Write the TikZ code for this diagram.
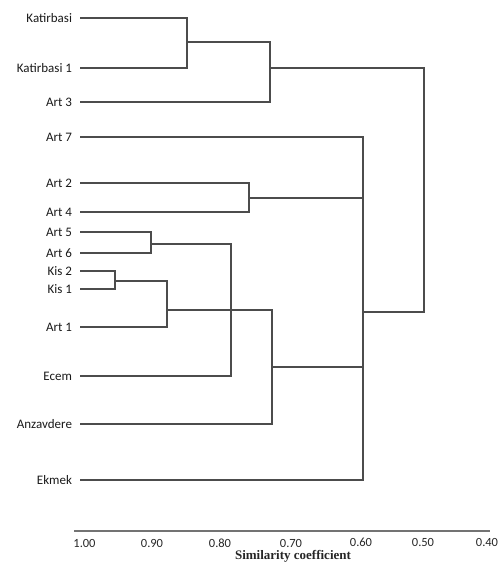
\documentclass[tikz,border=0pt]{standalone}
\usepackage{fontspec}
\setmainfont{Carlito}
\newfontfamily\serifb{Liberation Serif}
\begin{document}
\begin{tikzpicture}[x=1pt,y=-1pt,
  lab/.style={anchor=east,inner xsep=4pt,outer xsep=4pt,inner ysep=0pt,font=\fontsize{13}{13}\selectfont,text=black!90},
  tick/.style={font=\fontsize{12.5}{12.5}\selectfont,text=black!85,inner sep=0pt},
  br/.style={draw=black!70,line width=1.2pt}]
\useasboundingbox (0,0) rectangle (499,563);
% leaves
\node[lab] (kat)  at (80,18)  {Katirbasi};
\node[lab] (kat1) at (80,68)  {Katirbasi 1};
\node[lab] (art3) at (80,102) {Art 3};
\node[lab] (art7) at (80,137) {Art 7};
\node[lab] (art2) at (80,183) {Art 2};
\node[lab] (art4) at (80,212) {Art 4};
\node[lab] (art5) at (80,232) {Art 5};
\node[lab] (art6) at (80,253) {Art 6};
\node[lab] (kis2) at (80,271) {Kis 2};
\node[lab] (kis1) at (80,289) {Kis 1};
\node[lab] (art1) at (80,327) {Art 1};
\node[lab] (ecem) at (80,376) {Ecem};
\node[lab] (anz)  at (80,424) {Anzavdere};
\node[lab] (ekm)  at (80,480) {Ekmek};
% junctions
\coordinate (j1)   at (187,42);
\coordinate (j2)   at (270,68);
\coordinate (root) at (424,312);
\coordinate (jr)   at (363,312);
\coordinate (j24)  at (249,198);
\coordinate (j56)  at (151,244);
\coordinate (jk)   at (115,281);
\coordinate (jk1)  at (167,310);
\coordinate (j56e) at (231,310);
\coordinate (jz)   at (272,367);
% branches
\draw[br] (kat.east) -| (j1) |- (kat1.east);
\draw[br] (j1) -| (j2) |- (art3.east);
\draw[br] (j2) -| (root) -- (jr);
\draw[br] (art7.east) -| (jr) |- (ekm.east);
\draw[br] (art2.east) -| (j24) |- (art4.east);
\draw[br] (j24) -- (j24 -| jr);
\draw[br] (art5.east) -| (j56) |- (art6.east);
\draw[br] (kis2.east) -| (jk) |- (kis1.east);
\draw[br] (jk) -| (jk1) |- (art1.east);
\draw[br] (j56) -| (j56e) |- (ecem.east);
\draw[br] (jk1) -| (jz) |- (anz.east);
\draw[br] (jz) -- (jz -| jr);
% axis
\coordinate (axl) at (74,531);
\coordinate (axr) at (490,531);
\draw[draw=black!55,line width=1.2pt] (axl) -- (axr);
\node[tick] (t100) at (84.5,543) {1.00};
\node[tick] (t090) at (152,543) {0.90};
\node[tick] (t080) at (220,543) {0.80};
\node[tick] (t070) at (291,543) {0.70};
\node[tick] (t060) at (361,542.5) {0.60};
\node[tick] (t050) at (423,542.5) {0.50};
\node[tick] (t040) at (487,542.5) {0.40};
\node[inner sep=0pt,font=\serifb\bfseries\fontsize{13}{13}\selectfont,text=black!85] (title) at (293,556.5) {Similarity coefficient};
\end{tikzpicture}
\end{document}
